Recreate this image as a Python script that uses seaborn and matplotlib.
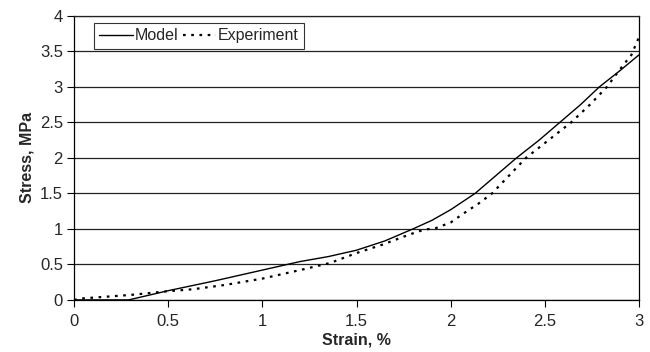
import matplotlib
matplotlib.use("Agg")
import matplotlib.pyplot as plt
import seaborn as sns
import pandas as pd

model_strain = [0.0, 0.29, 0.5, 0.75, 1.0, 1.2, 1.35, 1.5, 1.65, 1.8, 1.9, 2.0, 2.13, 2.24, 2.35,
                2.47, 2.58, 2.69, 2.79, 2.9, 3.0]
model_stress = [0.0, 0.0, 0.13, 0.27, 0.42, 0.54, 0.61, 0.70, 0.83, 1.0, 1.12, 1.27, 1.5, 1.75, 2.0,
                2.25, 2.5, 2.75, 3.0, 3.23, 3.45]

exp_strain = [0.0, 0.04, 0.3, 0.49, 0.63, 0.8, 1.0, 1.2, 1.36, 1.5, 1.64, 1.78, 1.86, 1.92, 2.0,
              2.07, 2.15, 2.22, 2.31, 2.4, 2.52, 2.64, 2.74, 2.83, 2.9, 2.96, 3.0]
exp_stress = [0.0, 0.02, 0.07, 0.12, 0.15, 0.21, 0.30, 0.42, 0.52, 0.66, 0.78, 0.92, 0.99, 1.01, 1.09,
              1.22, 1.36, 1.5, 1.75, 2.0, 2.25, 2.5, 2.75, 3.0, 3.25, 3.45, 3.7]

df_model = pd.DataFrame({"Strain": model_strain, "Stress": model_stress})
df_exp = pd.DataFrame({"Strain": exp_strain, "Stress": exp_stress})

sns.set_theme(style="white")
plt.rcParams['font.family'] = ['Liberation Sans', 'DejaVu Sans']

fig, ax = plt.subplots(figsize=(6.5, 3.52), dpi=100)
fig.subplots_adjust(left=0.114, right=0.983, top=0.955, bottom=0.148)

sns.lineplot(data=df_model, x="Strain", y="Stress", ax=ax, color="black", lw=1.0, label="Model", estimator=None, sort=False)
sns.lineplot(data=df_exp, x="Strain", y="Stress", ax=ax, color="black", lw=1.6, label="Experiment", estimator=None, sort=False)
ax.lines[1].set_linestyle((0, (1.2, 2.5)))

ax.set_xlim(0, 3)
ax.set_ylim(0, 4)
ax.set_xticks([0, 0.5, 1, 1.5, 2, 2.5, 3])
ax.set_xticklabels(["0", "0.5", "1", "1.5", "2", "2.5", "3"])
ax.set_yticks([0, 0.5, 1, 1.5, 2, 2.5, 3, 3.5, 4])
ax.set_yticklabels(["0", "0.5", "1", "1.5", "2", "2.5", "3", "3.5", "4"])
ax.yaxis.grid(True, color="#222222", lw=0.9)
ax.set_axisbelow(True)
for s in ["left", "right", "bottom", "top"]:
    ax.spines[s].set_visible(True)
    ax.spines[s].set_color("black")
    ax.spines[s].set_linewidth(0.9)
ax.spines["top"].set_color("#222222")
ax.tick_params(axis="both", which="both", direction="out", length=5, width=0.8, color="black",
               labelsize=12, bottom=True, left=True, pad=3)
ax.tick_params(axis="x", pad=5)
ax.set_xlabel("Strain, %", fontsize=11.5, fontweight="bold", labelpad=3)
ax.set_ylabel("Stress, MPa", fontsize=11.5, fontweight="bold", labelpad=4)

leg = ax.legend(loc="upper left", bbox_to_anchor=(0.03, 0.985), ncol=2, frameon=True, fancybox=False,
                edgecolor="black", fontsize=11.5, handlelength=2.1, handletextpad=0.1, columnspacing=0.3,
                borderpad=0.32, borderaxespad=0.2)
leg.get_frame().set_linewidth(0.8)

fig.savefig("out.png", dpi=100)
